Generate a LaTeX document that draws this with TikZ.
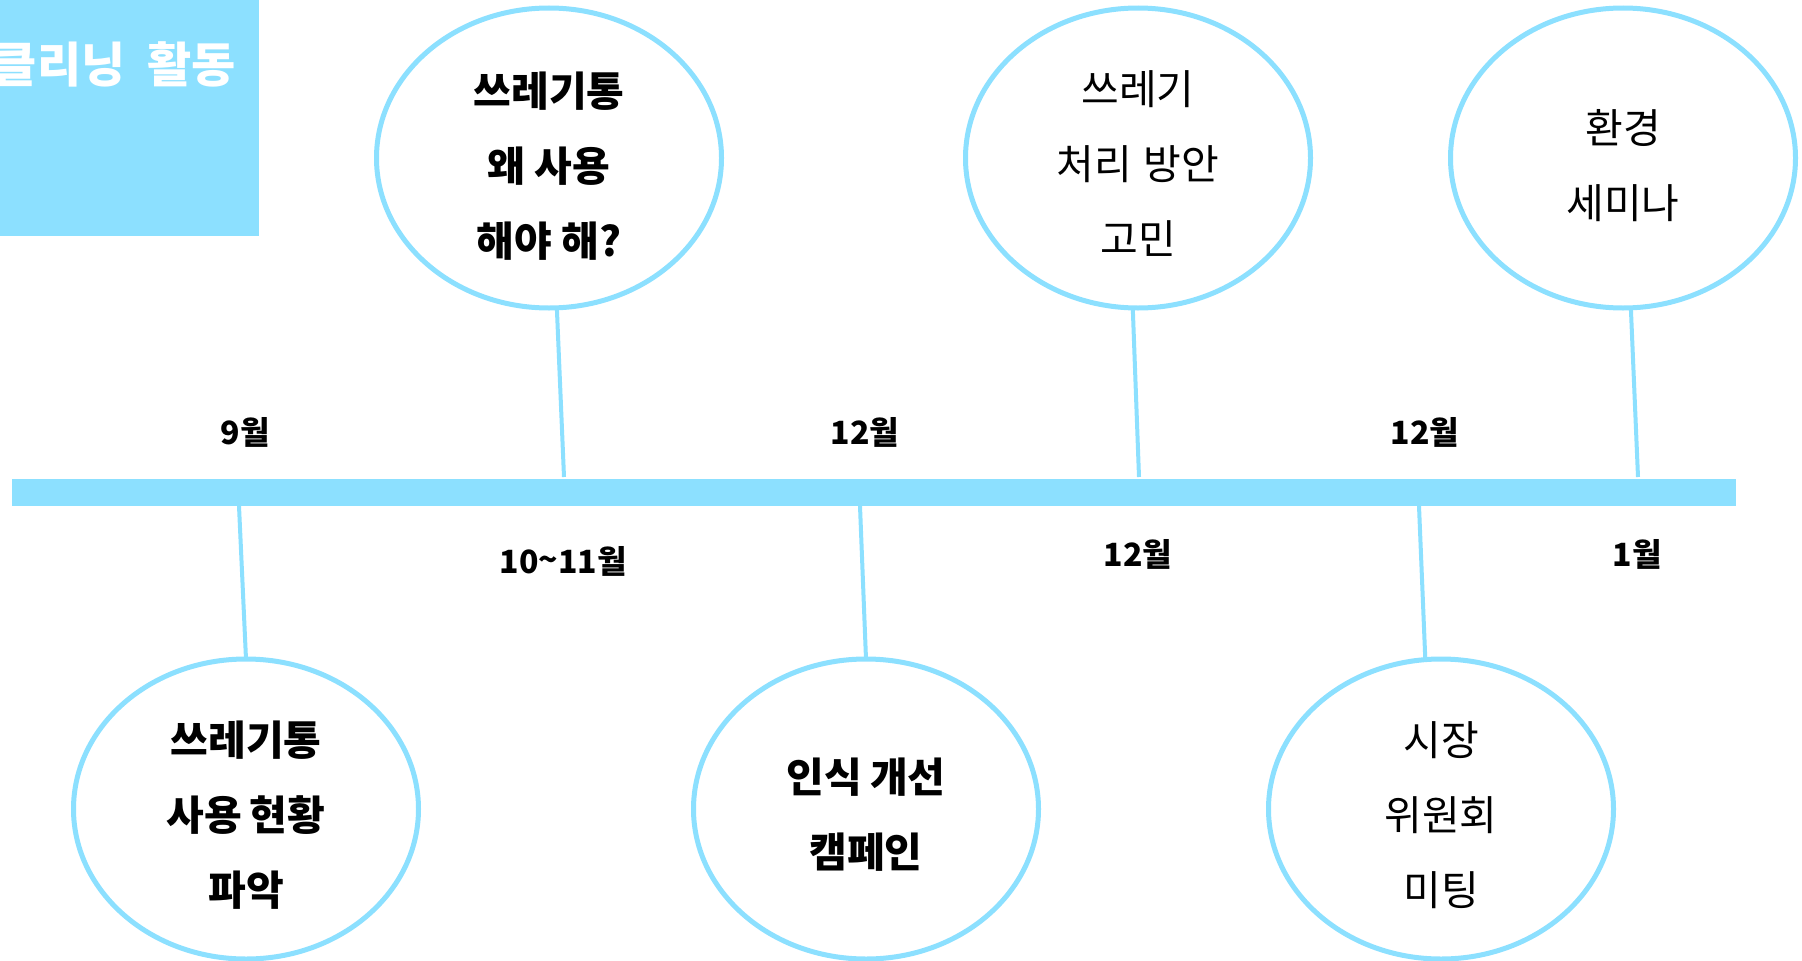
\documentclass[tikz,border=0pt]{standalone}
\usepackage{fontspec}
\newfontfamily\kr{Noto Sans CJK KR}
\usetikzlibrary{shapes.geometric}
\definecolor{sky}{RGB}{140,224,255}
\begin{document}
\begin{tikzpicture}[x=1pt,y=-1pt,
  bubble/.style={ellipse, draw=sky, line width=5pt, minimum width=345pt,
    minimum height=300pt, inner sep=0pt, outer sep=0pt},
  boldtxt/.style={align=center, inner sep=0pt, font=\kr\bfseries\fontsize{41}{75}\selectfont},
  thintxt/.style={align=center, inner sep=0pt, font=\kr\fontsize{41}{75}\selectfont},
  datelbl/.style={font=\kr\bfseries\fontsize{32}{38}\selectfont, inner sep=0pt},
  stem/.style={draw=sky, line width=4pt}]
\useasboundingbox (0,0) rectangle (1802,961);
\fill[white] (0,0) rectangle (1802,961);

% title box
\node[fill=sky, minimum width=259pt, minimum height=236pt, inner sep=0pt, outer sep=0pt] (titlebox) at (129.5,118) {};
\node[anchor=east, text=white, inner sep=0pt, font=\kr\bfseries\fontsize{48}{56}\selectfont] (title) at (236,64) {클리닝\hspace{22pt}활동};

% timeline bar
\node[fill=sky, minimum width=1724pt, minimum height=27pt, inner sep=0pt, outer sep=0pt] (bar) at (874,492.5) {};

% bubbles
\node[bubble] (u1) at (549,158) {};
\node[bubble] (u2) at (1138,158) {};
\node[bubble] (u3) at (1623,158) {};
\node[bubble] (d1) at (246,809) {};
\node[bubble] (d2) at (866,809) {};
\node[bubble] (d3) at (1441,809) {};

% bubble texts
\node[boldtxt] (u1t) at ([yshift=-8pt]u1.center) {쓰레기통\\왜 사용\\해야 해?};
\node[thintxt] (u2t) at ([yshift=-6pt]u2.center) {쓰레기\\처리\hspace{12pt}방안\\고민};
\node[thintxt] (u3t) at ([yshift=-8pt]u3.center) {환경\\세미나};
\node[boldtxt] (d1t) at ([yshift=-6pt]d1.center) {쓰레기통\\사용\hspace{8pt}현황\\파악};
\node[boldtxt] (d2t) at ([yshift=-6pt]d2.center) {인식\hspace{8pt}개선\\캠페인};
\node[thintxt] (d3t) at ([yshift=-6pt]d3.center) {시장\\위원회\\미팅};

% stem endpoints on the bar
\coordinate (k1) at (564,477);
\coordinate (k2) at (1139,477);
\coordinate (k3) at (1638,477);
\coordinate (j1) at (239,506);
\coordinate (j2) at (860,506);
\coordinate (j3) at (1419,506);

\draw[stem] (u1.-87) -- (k1);
\draw[stem] (u2.-92) -- (k2);
\draw[stem] (u3.-87) -- (k3);
\draw[stem] (d1.north) -- (j1);
\draw[stem] (d2.north) -- (j2);
\draw[stem] (d3.96) -- (j3);

% date labels
\node[datelbl] (m1) at (245,432) {9월};
\node[datelbl] (m2) at (865,432) {12월};
\node[datelbl] (m3) at (1425,432) {12월};
\node[datelbl] (m4) at (563,561) {10\raisebox{2pt}{\textasciitilde}11월};
\node[datelbl] (m5) at (1138,554) {12월};
\node[datelbl] (m6) at (1637,554) {1월};
\end{tikzpicture}
\end{document}
